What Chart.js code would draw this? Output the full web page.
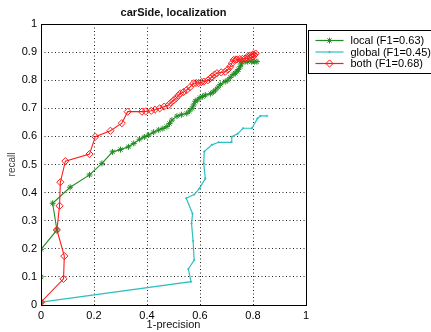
<!DOCTYPE html>
<html>
<head>
<meta charset="utf-8">
<script src="https://cdn.jsdelivr.net/npm/chart.js@4/dist/chart.umd.min.js"></script>
<style>
html,body{margin:0;padding:0;background:#fff;}
#wrap{width:431px;height:332px;position:relative;}
</style>
</head>
<body>
<div id="wrap"><canvas id="c" width="431" height="332"></canvas></div>
<script>
const titleText = 'carSide, localization';
const xAxisLabel = '1-precision';
const yAxisLabel = 'recall';
const xTicks = [0, 0.2, 0.4, 0.6, 0.8, 1];
const yTicks = [0, 0.1, 0.2, 0.3, 0.4, 0.5, 0.6, 0.7, 0.8, 0.9, 1];
const seriesNames = ['local (F1=0.63)', 'global (F1=0.45)', 'both (F1=0.68)'];

const localX = [0, 0, 0, 0.06, 0.044, 0.11, 0.183, 0.23, 0.27, 0.30, 0.33, 0.35, 0.372, 0.39, 0.406, 0.425, 0.444, 0.46, 0.475, 0.485, 0.494, 0.513, 0.53, 0.55, 0.56, 0.57, 0.576, 0.582, 0.59, 0.6, 0.61, 0.62, 0.64, 0.65, 0.658, 0.668, 0.677, 0.695, 0.705, 0.714, 0.725, 0.733, 0.74, 0.745, 0.752, 0.755, 0.758, 0.77, 0.78, 0.795, 0.805, 0.815];
const localY = [0.01, 0.10, 0.198, 0.267, 0.362, 0.419, 0.463, 0.504, 0.545, 0.553, 0.563, 0.575, 0.59, 0.598, 0.605, 0.615, 0.623, 0.628, 0.635, 0.646, 0.658, 0.672, 0.677, 0.682, 0.69, 0.70, 0.712, 0.725, 0.73, 0.738, 0.742, 0.747, 0.752, 0.758, 0.765, 0.775, 0.785, 0.795, 0.80, 0.81, 0.82, 0.825, 0.832, 0.838, 0.848, 0.858, 0.866, 0.866, 0.866, 0.866, 0.866, 0.866];

const globalX = [0, 0.566, 0.556, 0.578, 0.574, 0.568, 0.572, 0.548, 0.578, 0.598, 0.62, 0.614, 0.616, 0.645, 0.67, 0.717, 0.72, 0.742, 0.762, 0.796, 0.817, 0.828, 0.853];
const globalY = [0.01, 0.083, 0.128, 0.16, 0.228, 0.29, 0.325, 0.38, 0.393, 0.415, 0.45, 0.504, 0.546, 0.57, 0.579, 0.579, 0.599, 0.609, 0.629, 0.629, 0.664, 0.673, 0.673];

const bothX = [0, 0.085, 0.088, 0.06, 0.07, 0.073, 0.092, 0.183, 0.205, 0.262, 0.305, 0.327, 0.381, 0.395, 0.416, 0.43, 0.448, 0.465, 0.482, 0.49, 0.50, 0.51, 0.518, 0.526, 0.538, 0.55, 0.562, 0.576, 0.585, 0.595, 0.605, 0.614, 0.63, 0.638, 0.645, 0.655, 0.664, 0.68, 0.695, 0.705, 0.714, 0.72, 0.727, 0.735, 0.74, 0.75, 0.76, 0.77, 0.78, 0.79, 0.80, 0.805, 0.81, 0.80, 0.79, 0.78];
const bothY = [0.01, 0.093, 0.174, 0.267, 0.353, 0.437, 0.512, 0.537, 0.599, 0.62, 0.647, 0.688, 0.688, 0.689, 0.691, 0.695, 0.70, 0.706, 0.712, 0.72, 0.728, 0.736, 0.745, 0.753, 0.758, 0.765, 0.775, 0.789, 0.79, 0.79, 0.793, 0.795, 0.80, 0.806, 0.812, 0.82, 0.825, 0.828, 0.83, 0.838, 0.848, 0.86, 0.872, 0.873, 0.874, 0.875, 0.876, 0.877, 0.878, 0.88, 0.884, 0.89, 0.895, 0.892, 0.888, 0.885];

const colors = ['#228b22', '#2cc0c0', '#ff1a1a'];
const FONT = '"Liberation Sans", Arial, Helvetica, sans-serif';

function pts(xs, ys){ return xs.map((x,i)=>({x:x, y:ys[i]})); }

const datasets = [
  {label: seriesNames[0], data: pts(localX, localY), borderColor: colors[0], backgroundColor: colors[0],
   pointStyle: 'star', pointRadius: 3, pointBorderWidth: 1, borderWidth: 1.1, showLine: true, order: 2},
  {label: seriesNames[1], data: pts(globalX, globalY), borderColor: colors[1], backgroundColor: colors[1],
   pointStyle: 'circle', pointRadius: 0.8, pointBorderWidth: 0.5, borderWidth: 1.2, showLine: true, order: 3},
  {label: seriesNames[2], data: pts(bothX, bothY), borderColor: colors[2], backgroundColor: 'rgba(0,0,0,0)',
   pointStyle: 'rectRot', pointRadius: 3.6, pointBorderWidth: 1, borderWidth: 1.1, showLine: true, order: 1}
];

const boxPlugin = {
  id: 'boxPlugin',
  afterDraw(chart){
    const ctx = chart.ctx, a = chart.chartArea;
    ctx.save();
    ctx.strokeStyle = '#000';
    ctx.lineWidth = 1;
    ctx.strokeRect(Math.round(a.left)+0.5, Math.round(a.top)+0.5, Math.round(a.right-a.left), Math.round(a.bottom-a.top));
    // title
    ctx.fillStyle = '#111';
    ctx.font = 'bold 11px ' + FONT;
    ctx.textAlign = 'center';
    ctx.textBaseline = 'middle';
    ctx.fillText(titleText, (a.left + a.right) / 2, 13);
    // legend box
    const lx = Math.round(a.right) + 2.5, ly = 30.5, lw = 140, lh = 43;
    ctx.fillStyle = '#fff';
    ctx.fillRect(lx, ly, lw, lh);
    ctx.strokeRect(lx, ly, lw, lh);
    ctx.font = '11px ' + FONT;
    ctx.textBaseline = 'middle';
    ctx.textAlign = 'left';
    chart.data.datasets.forEach((ds, i) => {
      const yy = ly + 10 + i * 11.5;
      const x0 = lx + 7, x1 = lx + 35;
      ctx.strokeStyle = ds.borderColor;
      ctx.fillStyle = ds.backgroundColor;
      ctx.lineWidth = 1.2;
      ctx.beginPath(); ctx.moveTo(x0, yy); ctx.lineTo(x1, yy); ctx.stroke();
      ctx.lineWidth = ds.pointBorderWidth;
      Chart.helpers.drawPoint(ctx, {pointStyle: ds.pointStyle, radius: ds.pointRadius, borderWidth: ds.pointBorderWidth, rotation: 0},
        (x0 + x1) / 2, yy);
      ctx.fillStyle = '#000';
      ctx.fillText(ds.label, lx + 42, yy + 0.5);
    });
    ctx.restore();
  }
};

new Chart(document.getElementById('c'), {
  type: 'scatter',
  data: {datasets: datasets},
  plugins: [boxPlugin],
  options: {
    responsive: false,
    animation: false,
    devicePixelRatio: 1,
    layout: {padding: {left: 0, right: 125, top: 24, bottom: 0}},
    elements: {line: {tension: 0}},
    plugins: {
      legend: {display: false},
      tooltip: {enabled: false},
      title: {display: false}
    },
    scales: {
      x: {
        type: 'linear', min: 0, max: 1,
        afterBuildTicks: s => { s.ticks = xTicks.map(v => ({value: v})); },
        afterFit: s => { s.height = 27; },
        ticks: {color: '#000', padding: 4, font: {family: FONT, size: 11},
          callback: v => String(+Number(v).toFixed(1))},
        grid: {drawTicks: false, color: ctx => (ctx.tick && (ctx.tick.value === 0 || ctx.tick.value === 1)) ? 'rgba(0,0,0,0)' : '#222',
          lineWidth: 1},
        border: {display: false, dash: [1, 2.5]},
        title: {display: true, text: xAxisLabel, color: '#111', font: {family: FONT, size: 11}, padding: {top: 0, bottom: 0}}
      },
      y: {
        type: 'linear', min: 0, max: 1,
        afterBuildTicks: s => { s.ticks = yTicks.map(v => ({value: v})); },
        afterFit: s => { s.width = 41; },
        ticks: {color: '#000', padding: 4, font: {family: FONT, size: 11},
          callback: v => String(+Number(v).toFixed(1))},
        grid: {drawTicks: false, color: ctx => (ctx.tick && (ctx.tick.value === 0 || ctx.tick.value === 1)) ? 'rgba(0,0,0,0)' : '#222',
          lineWidth: 1},
        border: {display: false, dash: [1, 2.5]},
        title: {display: true, text: yAxisLabel, color: '#444', font: {family: FONT, size: 10}, padding: {top: 6, bottom: 0}}
      }
    }
  }
});
</script>
</body>
</html>
